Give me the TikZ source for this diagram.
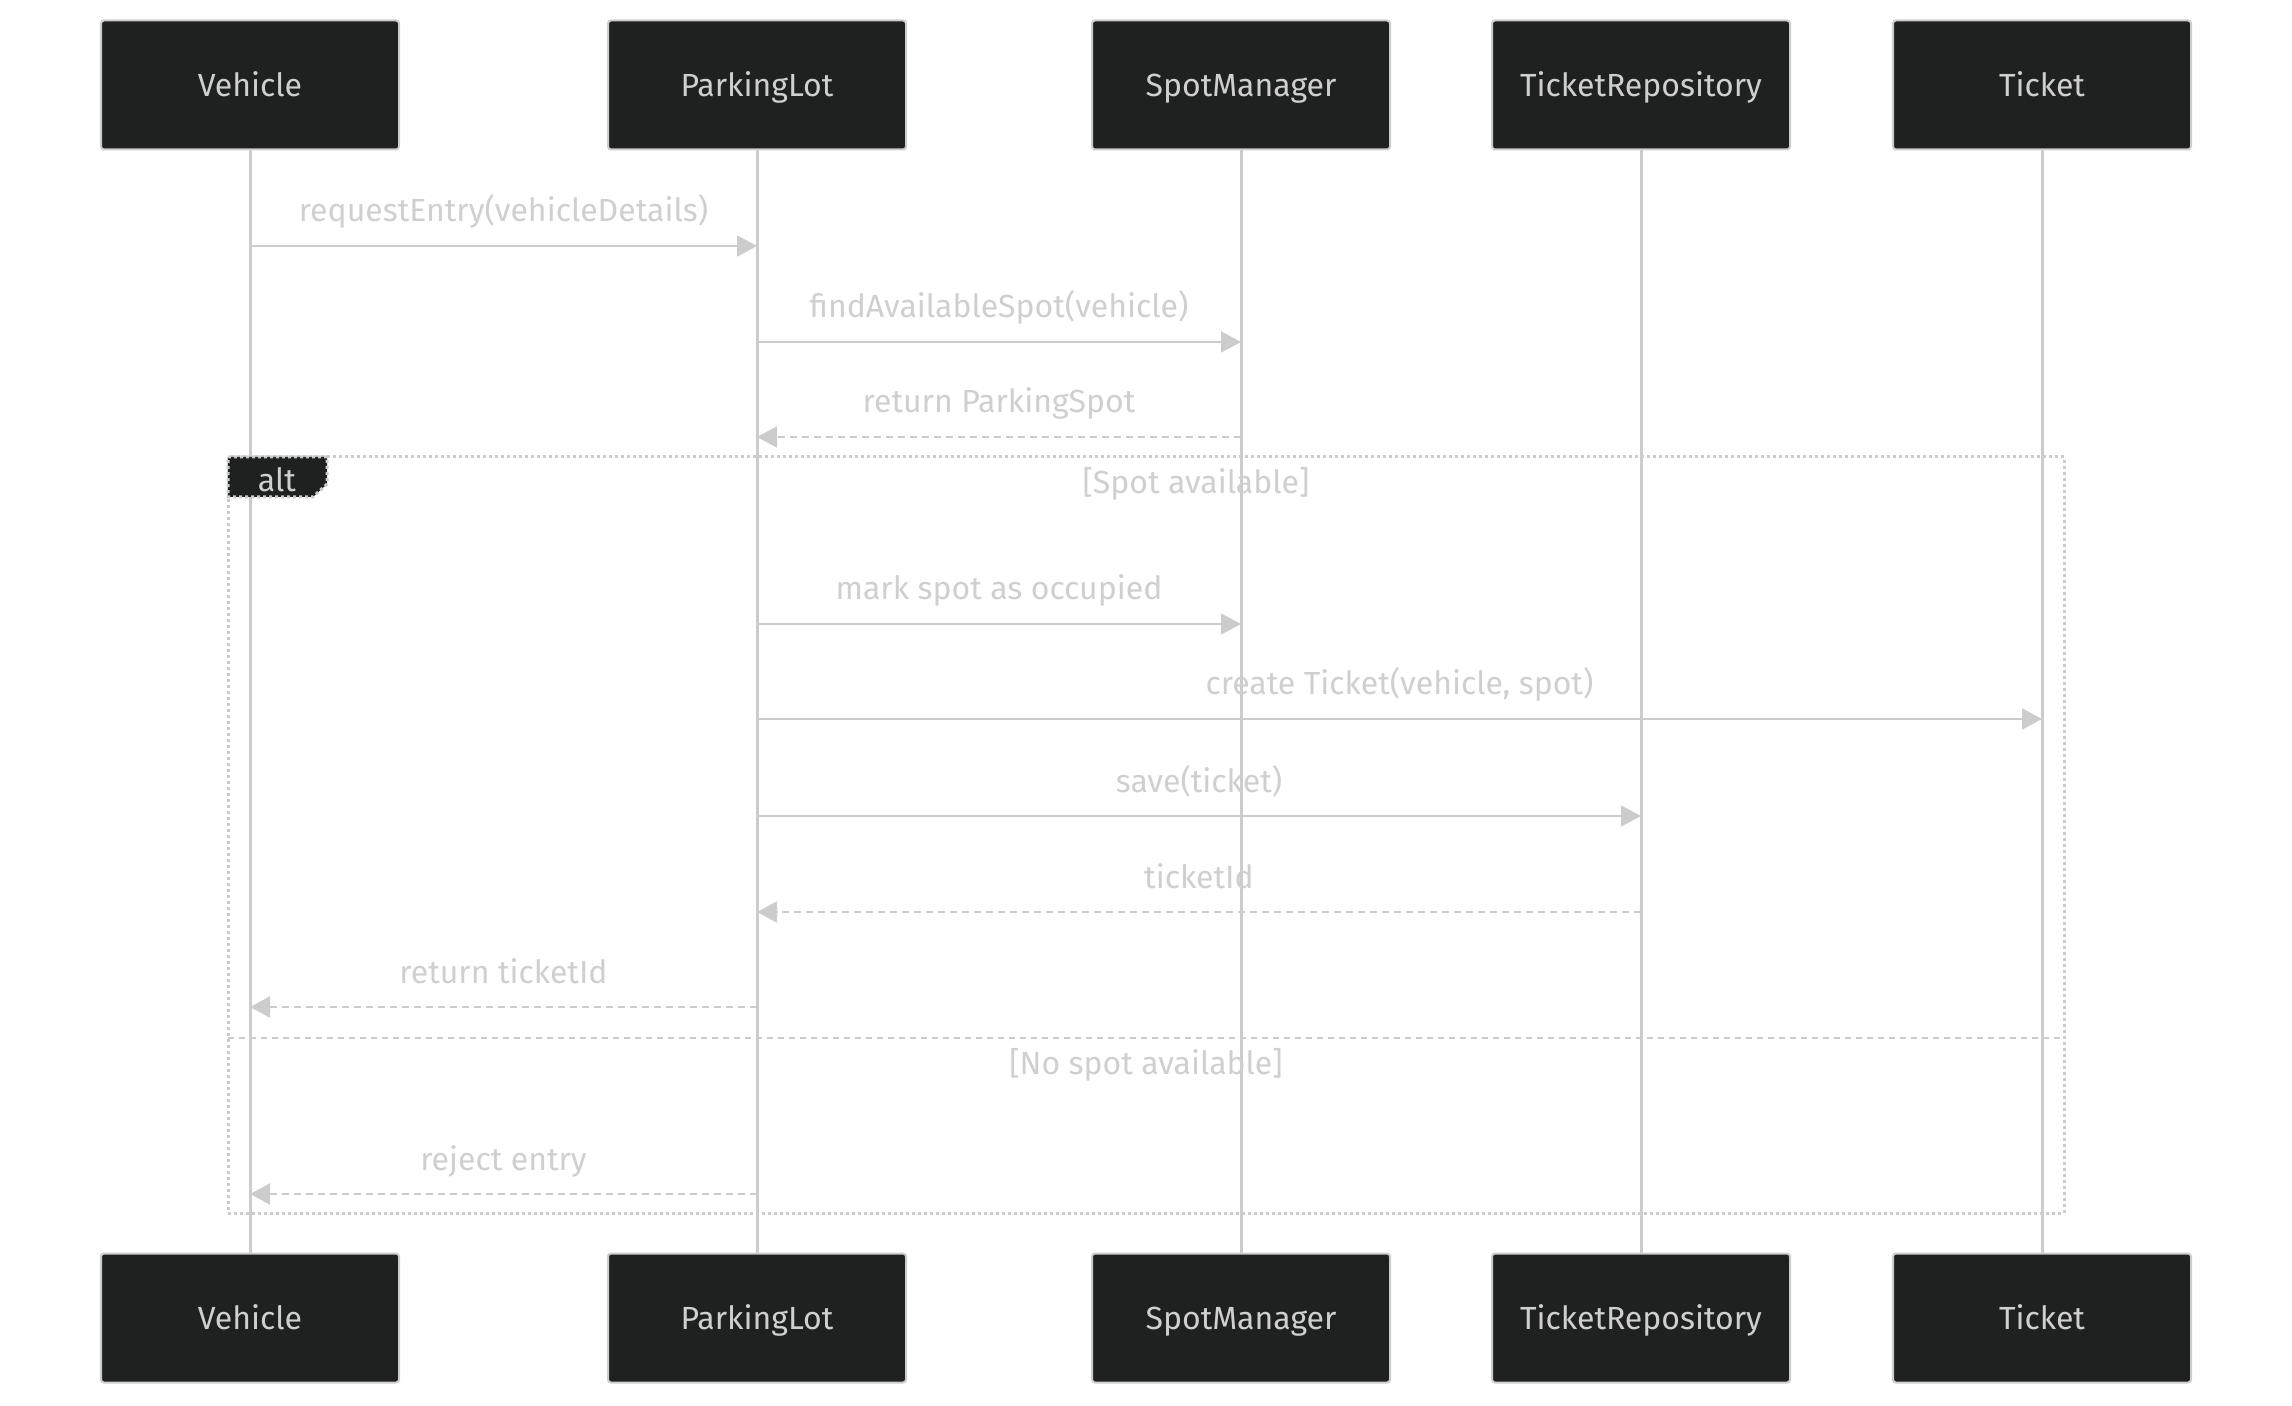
\documentclass[tikz,border=0pt]{standalone}
\usepackage{fontspec}
\setmainfont{Fira Sans}
\usetikzlibrary{arrows.meta}
\definecolor{boxfill}{HTML}{1F2020}
\definecolor{linegray}{HTML}{CCCCCC}
\definecolor{labelgray}{HTML}{CFCFCF}
\newcommand{\diagfont}{\fontsize{16pt}{19pt}\selectfont}

\begin{document}
\begin{tikzpicture}[x=0.5pt,y=-0.5pt,
  actor/.style={draw=linegray,line width=1pt,fill=boxfill,rounded corners=1.5pt,
    minimum width=149pt,minimum height=64.5pt,text=labelgray,font=\diagfont,
    text height=1.17em,text depth=0.05em},
  life/.style={draw=linegray,line width=1.5pt},
  msg/.style={draw=linegray,line width=1pt,-{Triangle[length=10pt,width=10.5pt]}},
  reply/.style={msg,dash pattern=on 3.5pt off 2.5pt},
  msgtext/.style={midway,yshift=14.5pt,text=labelgray,font=\diagfont,
    text height=0.7em,text depth=0.2em},
  altframe/.style={draw=linegray,line width=1.5pt,dash pattern=on 1.5pt off 1.5pt},
  guard/.style={text=labelgray,font=\diagfont,text height=0.7em,text depth=0.2em}]
\path[use as bounding box] (0,0) rectangle (2292,1406);

\node[actor] (veh) at (250,85) {Vehicle};
\node[actor] (lot) at (757,85) {ParkingLot};
\node[actor] (spot) at (1241,85) {SpotManager};
\node[actor] (repo) at (1641,85) {TicketRepository};
\node[actor] (tkt) at (2042,85) {Ticket};
\node[actor] (vehB) at (250,1318) {Vehicle};
\node[actor] (lotB) at (757,1318) {ParkingLot};
\node[actor] (spotB) at (1241,1318) {SpotManager};
\node[actor] (repoB) at (1641,1318) {TicketRepository};
\node[actor] (tktB) at (2042,1318) {Ticket};

\draw[life] (veh) -- (vehB);
\draw[life] (lot) -- (lotB);
\draw[life] (spot) -- (spotB);
\draw[life] (repo) -- (repoB);
\draw[life] (tkt) -- (tktB);

\coordinate (r1) at (0,246);
\coordinate (r2) at (0,342);
\coordinate (r3) at (0,437);
\coordinate (r4) at (0,624);
\coordinate (r5) at (0,719);
\coordinate (r6) at (0,816);
\coordinate (r7) at (0,912);
\coordinate (r8) at (0,1007);
\coordinate (r9) at (0,1194);

\draw[msg] (veh |- r1) -- (lot |- r1) node[msgtext] {requestEntry(vehicleDetails)};
\draw[msg] (lot |- r2) -- (spot |- r2) node[msgtext] {findAvailableSpot(vehicle)};
\draw[reply] (spot |- r3) -- (lot |- r3) node[msgtext] {return ParkingSpot};

\draw[altframe] (228,457) rectangle (2064,1213);
\draw[altframe,fill=boxfill] (228,457) -- (327,457) -- (327,484) -- (313,497) -- (228,497) -- cycle;
\node[guard] (altlbl) at (277,487) {alt};
\node[guard] (g1) at (1196,489) {[Spot available]};

\draw[msg] (lot |- r4) -- (spot |- r4) node[msgtext] {mark spot as occupied};
\draw[msg] (lot |- r5) -- (tkt |- r5) node[msgtext] {create Ticket(vehicle, spot)};
\draw[msg] (lot |- r6) -- (repo |- r6) node[msgtext] {save(ticket)};
\draw[reply] (repo |- r7) -- (lot |- r7) node[msgtext] {ticketId};
\draw[reply] (lot |- r8) -- (veh |- r8) node[msgtext] {return ticketId};

\draw[draw=linegray,line width=1.25pt,dash pattern=on 3pt off 2.5pt] (228,1038) -- (2064,1038);
\node[guard] (g2) at (1146,1069) {[No spot available]};

\draw[reply] (lot |- r9) -- (veh |- r9) node[msgtext] {reject entry};
\end{tikzpicture}
\end{document}
